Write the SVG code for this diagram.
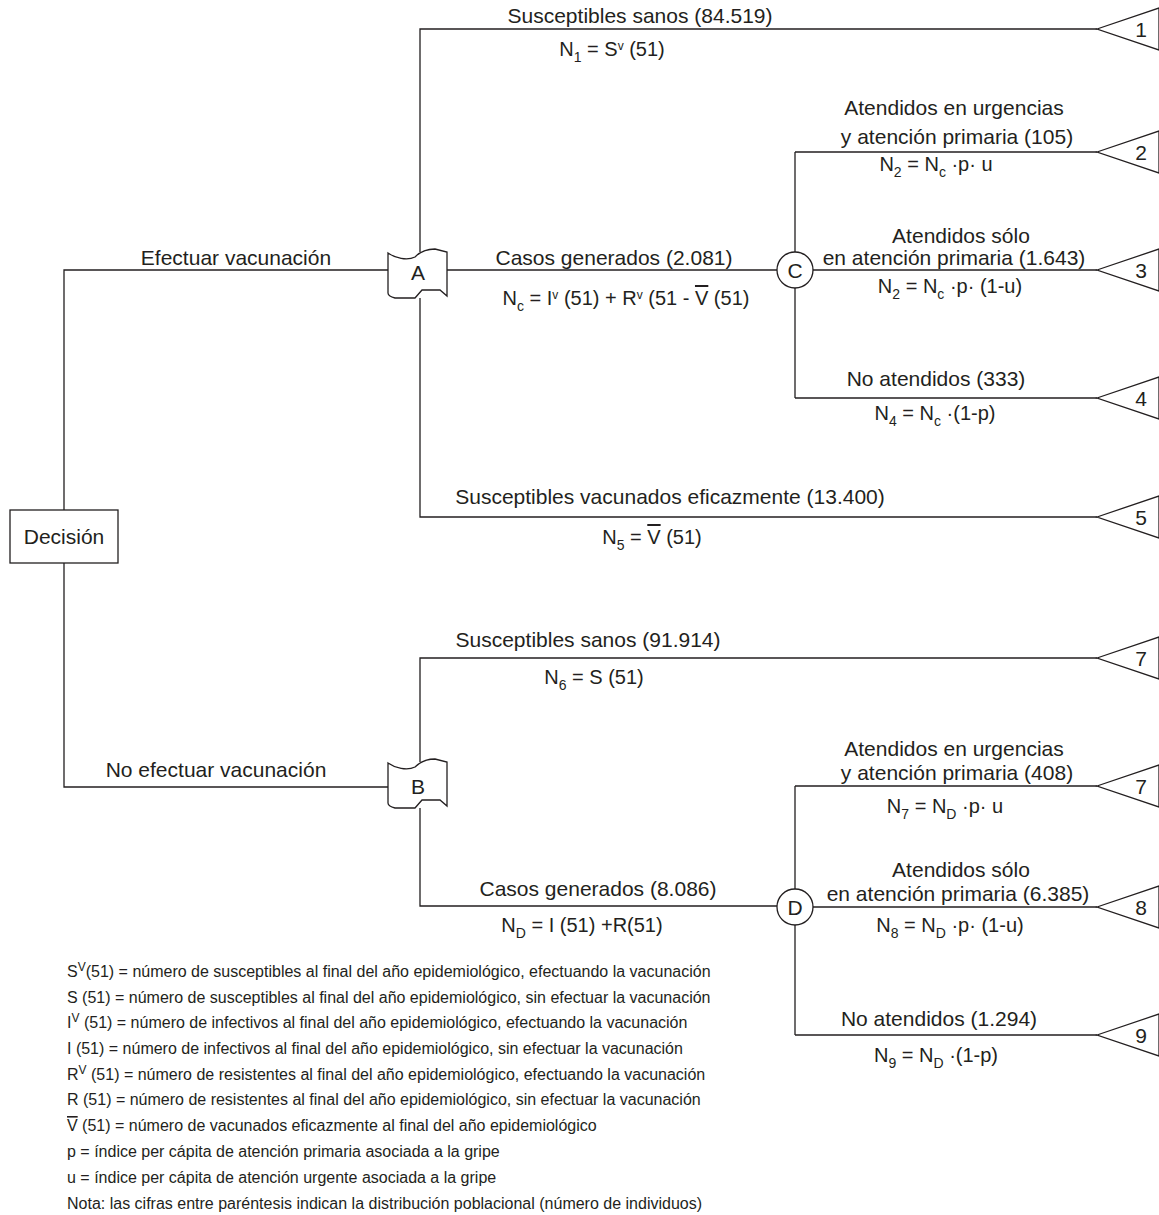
<svg xmlns="http://www.w3.org/2000/svg" width="1159" height="1215" viewBox="0 0 1159 1215">
<defs>
<style>
text{font-family:"Liberation Sans",Arial,sans-serif;fill:#231f20}
.lb{font-size:21px;text-anchor:middle}
.fm{font-size:20px;text-anchor:middle}
.nd{font-size:21px;text-anchor:middle}
.lg{font-size:16px}
.ln{fill:none;stroke:#231f20;stroke-width:1.3}
.sh{fill:#fff;stroke:#231f20;stroke-width:1.3}
.s{font-size:14px}
.sv{font-size:12px}
.ov{text-decoration:overline}
</style>
<path id="wave" d="M388,253 C395,258 407,261 415,257 C420,252 426,249 435,249 L447,252 L447,296 L440,290 L422,290 L415,298 L395,298 C391,297 388,295 388,293 Z"/>
<path id="tri" d="M0,0 L62,-21 L62,21 Z"/>
</defs>
<rect width="1159" height="1215" fill="#fff"/>
<g id="connectors" class="ln">
<path d="M64,510 V270 H388"/>
<path d="M64,563 V787 H388"/>
<path d="M420,252 V29 H1097"/>
<path d="M420,298 V517 H1097"/>
<path d="M447,270 H777"/>
<path d="M795,152 V252 M795,288 V398"/>
<path d="M795,152 H1097 M813,270 H1097 M795,398 H1097"/>
<path d="M420,762 V658 H1097"/>
<path d="M420,808 V906 H777"/>
<path d="M795,786 V889 M795,925 V1035"/>
<path d="M795,786 H1097 M813,907 H1097 M795,1035 H1097"/>
</g>
<g id="decision"><rect class="sh" x="10" y="510" width="108" height="53"/><text class="nd" x="64" y="544">Decisión</text></g>
<g id="nodeA"><use href="#wave" class="sh"/><text class="nd" x="418" y="280">A</text></g>
<g id="nodeB"><use href="#wave" class="sh" transform="translate(0,510)"/><text class="nd" x="418" y="794">B</text></g>
<g id="nodeC"><circle class="sh" cx="795" cy="270" r="18"/><text class="nd" x="795" y="278">C</text></g>
<g id="nodeD"><circle class="sh" cx="795" cy="907" r="18"/><text class="nd" x="795" y="915">D</text></g>
<g id="t1"><use href="#tri" class="sh" transform="translate(1097,29)"/><text class="nd" x="1141" y="37">1</text></g>
<g id="t2"><use href="#tri" class="sh" transform="translate(1097,152)"/><text class="nd" x="1141" y="160">2</text></g>
<g id="t3"><use href="#tri" class="sh" transform="translate(1097,270)"/><text class="nd" x="1141" y="278">3</text></g>
<g id="t4"><use href="#tri" class="sh" transform="translate(1097,398)"/><text class="nd" x="1141" y="406">4</text></g>
<g id="t5"><use href="#tri" class="sh" transform="translate(1097,517)"/><text class="nd" x="1141" y="525">5</text></g>
<g id="t7a"><use href="#tri" class="sh" transform="translate(1097,658)"/><text class="nd" x="1141" y="666">7</text></g>
<g id="t7b"><use href="#tri" class="sh" transform="translate(1097,786)"/><text class="nd" x="1141" y="794">7</text></g>
<g id="t8"><use href="#tri" class="sh" transform="translate(1097,907)"/><text class="nd" x="1141" y="915">8</text></g>
<g id="t9"><use href="#tri" class="sh" transform="translate(1097,1035)"/><text class="nd" x="1141" y="1043">9</text></g>
<g id="labels">
<text class="lb" x="236" y="265">Efectuar vacunación</text>
<text class="lb" x="216" y="777">No efectuar vacunación</text>
<text class="lb" x="640" y="23">Susceptibles sanos (84.519)</text>
<text class="fm" x="612" y="56">N<tspan class="s" dy="6">1</tspan><tspan dy="-6"> = S</tspan><tspan class="sv" dy="-6">v</tspan><tspan dy="6"> (51)</tspan></text>
<text class="lb" x="614" y="265">Casos generados (2.081)</text>
<text class="fm" x="626" y="305">N<tspan class="s" dy="6">c</tspan><tspan dy="-6"> = I</tspan><tspan class="sv" dy="-6">v</tspan><tspan dy="6"> (51) + R</tspan><tspan class="sv" dy="-6">v</tspan><tspan dy="6"> (51 - </tspan><tspan class="ov">V</tspan> (51)</text>
<text class="lb" x="954" y="115">Atendidos en urgencias</text>
<text class="lb" x="957" y="144">y atención primaria (105)</text>
<text class="fm" x="936" y="171">N<tspan class="s" dy="6">2</tspan><tspan dy="-6"> = N</tspan><tspan class="s" dy="6">c</tspan><tspan dy="-6"> ·p· u</tspan></text>
<text class="lb" x="961" y="243">Atendidos sólo</text>
<text class="lb" x="954" y="265">en atención primaria (1.643)</text>
<text class="fm" x="950" y="293">N<tspan class="s" dy="6">2</tspan><tspan dy="-6"> = N</tspan><tspan class="s" dy="6">c</tspan><tspan dy="-6"> ·p· (1-u)</tspan></text>
<text class="lb" x="936" y="386">No atendidos (333)</text>
<text class="fm" x="935" y="420">N<tspan class="s" dy="6">4</tspan><tspan dy="-6"> = N</tspan><tspan class="s" dy="6">c</tspan><tspan dy="-6"> ·(1-p)</tspan></text>
<text class="lb" x="670" y="504">Susceptibles vacunados eficazmente (13.400)</text>
<text class="fm" x="652" y="544">N<tspan class="s" dy="6">5</tspan><tspan dy="-6"> = </tspan><tspan class="ov">V</tspan> (51)</text>
<text class="lb" x="588" y="647">Susceptibles sanos (91.914)</text>
<text class="fm" x="594" y="684">N<tspan class="s" dy="6">6</tspan><tspan dy="-6"> = S (51)</tspan></text>
<text class="lb" x="954" y="756">Atendidos en urgencias</text>
<text class="lb" x="957" y="780">y atención primaria (408)</text>
<text class="fm" x="945" y="813">N<tspan class="s" dy="6">7</tspan><tspan dy="-6"> = N</tspan><tspan class="s" dy="6">D</tspan><tspan dy="-6"> ·p· u</tspan></text>
<text class="lb" x="961" y="877">Atendidos sólo</text>
<text class="lb" x="958" y="901">en atención primaria (6.385)</text>
<text class="fm" x="950" y="932">N<tspan class="s" dy="6">8</tspan><tspan dy="-6"> = N</tspan><tspan class="s" dy="6">D</tspan><tspan dy="-6"> ·p· (1-u)</tspan></text>
<text class="lb" x="939" y="1026">No atendidos (1.294)</text>
<text class="fm" x="936" y="1062">N<tspan class="s" dy="6">9</tspan><tspan dy="-6"> = N</tspan><tspan class="s" dy="6">D</tspan><tspan dy="-6"> ·(1-p)</tspan></text>
<text class="lb" x="598" y="896">Casos generados (8.086)</text>
<text class="fm" x="582" y="932">N<tspan class="s" dy="6">D</tspan><tspan dy="-6"> = I (51) +R(51)</tspan></text>
</g>
<g id="legend">
<text class="lg" x="67" y="977">S<tspan font-size="12" dy="-6">V</tspan><tspan dy="6">(51) = número de susceptibles al final del año epidemiológico, efectuando la vacunación</tspan></text>
<text class="lg" x="67" y="1003">S (51) = número de susceptibles al final del año epidemiológico, sin efectuar la vacunación</text>
<text class="lg" x="67" y="1028">I<tspan font-size="12" dy="-6">V</tspan><tspan dy="6"> (51) = número de infectivos al final del año epidemiológico, efectuando la vacunación</tspan></text>
<text class="lg" x="67" y="1054">I (51) = número de infectivos al final del año epidemiológico, sin efectuar la vacunación</text>
<text class="lg" x="67" y="1080">R<tspan font-size="12" dy="-6">V</tspan><tspan dy="6"> (51) = número de resistentes al final del año epidemiológico, efectuando la vacunación</tspan></text>
<text class="lg" x="67" y="1105">R (51) = número de resistentes al final del año epidemiológico, sin efectuar la vacunación</text>
<text class="lg" x="67" y="1131"><tspan class="ov">V</tspan> (51) = número de vacunados eficazmente al final del año epidemiológico</text>
<text class="lg" x="67" y="1157">p = índice per cápita de atención primaria asociada a la gripe</text>
<text class="lg" x="67" y="1183">u = índice per cápita de atención urgente asociada a la gripe</text>
<text class="lg" x="67" y="1209">Nota: las cifras entre paréntesis indican la distribución poblacional (número de individuos)</text>
</g>
</svg>
